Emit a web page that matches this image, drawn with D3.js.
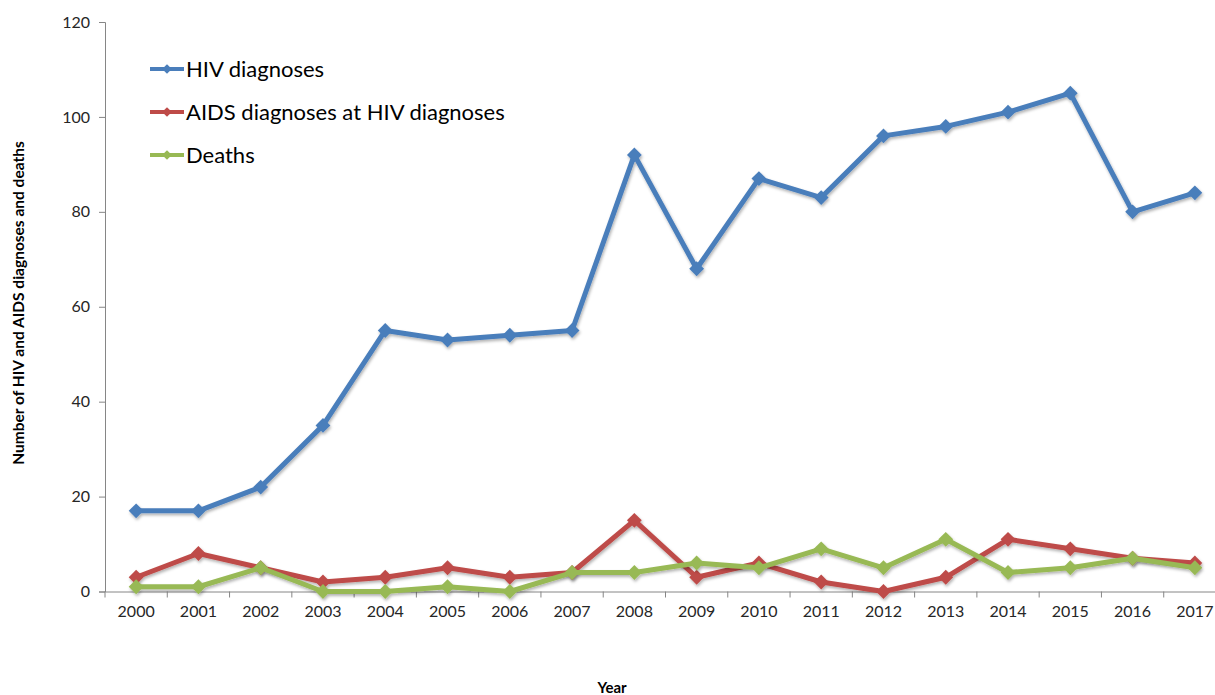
<!DOCTYPE html>
<html>
<head>
<meta charset="utf-8">
<script src="https://cdn.jsdelivr.net/npm/d3@7"></script>
<style>
  body { margin: 0; background: #fff; }
  text { font-family: Lato, "Liberation Sans", sans-serif; }
</style>
</head>
<body>
<div id="chart"></div>
<script>
var years = ['2000','2001','2002','2003','2004','2005','2006','2007','2008',
             '2009','2010','2011','2012','2013','2014','2015','2016','2017'];
var hivDiagnoses = [17,17,22,35,55,53,54,55,92,68,87,83,96,98,101,105,80,84];
var aidsAtHiv = [3,8,5,2,3,5,3,4,15,3,6,2,0,3,11,9,7,6];
var deaths = [1,1,5,0,0,1,0,4,4,6,5,9,5,11,4,5,7,5];
var yTicks = [0,20,40,60,80,100,120];

var series = [
  { name: 'HIV diagnoses', values: hivDiagnoses, color: '#4a7ebb' },
  { name: 'AIDS diagnoses at HIV diagnoses', values: aidsAtHiv, color: '#be4b48' },
  { name: 'Deaths', values: deaths, color: '#98b954' }
];

var width = 1215, height = 695;
var svg = d3.select('#chart').append('svg')
  .attr('width', width)
  .attr('height', height);

var defs = svg.append('defs');
var f = defs.append('filter').attr('id', 'shadow')
  .attr('x', '-5%').attr('y', '-5%').attr('width', '110%').attr('height', '120%');
f.append('feDropShadow')
  .attr('dx', 1).attr('dy', 2).attr('stdDeviation', 1.5)
  .attr('flood-color', '#000').attr('flood-opacity', 0.3);

var x = d3.scaleBand().domain(years).range([105, 1226]);
var y = d3.scaleLinear().domain([0, 120]).range([591.5, 22]);

// y axis
var yAxis = svg.append('g')
  .attr('transform', 'translate(105,0)')
  .call(d3.axisLeft(y).tickValues(yTicks).tickSize(6).tickPadding(9));
yAxis.select('.domain').attr('stroke', '#868686');
yAxis.selectAll('.tick line').attr('stroke', '#868686');
yAxis.selectAll('.tick text')
  .attr('fill', '#262626')
  .style('font-size', '16px')
  .style('font-family', 'Lato, "Liberation Sans", sans-serif');

// x axis
var xAxis = svg.append('g')
  .attr('transform', 'translate(0,' + y(0) + ')')
  .call(d3.axisBottom(x).tickSize(0).tickPadding(14));
xAxis.select('.domain').attr('stroke', '#868686');
xAxis.selectAll('.tick text')
  .attr('fill', '#262626')
  .style('font-size', '16px')
  .style('font-family', 'Lato, "Liberation Sans", sans-serif');
// ticks between categories
xAxis.selectAll('.sep')
  .data(years)
  .enter().append('line')
  .attr('class', 'sep')
  .attr('x1', function(d) { return x(d); })
  .attr('x2', function(d) { return x(d); })
  .attr('y1', 0).attr('y2', 6)
  .attr('stroke', '#868686');

// axis titles
svg.append('text')
  .attr('transform', 'translate(24,303) rotate(-90)')
  .attr('text-anchor', 'middle')
  .style('font-size', '15.5px')
  .style('font-weight', 'bold')
  .attr('fill', '#000')
  .text('Number of HIV and AIDS diagnoses and deaths');

svg.append('text')
  .attr('x', 612).attr('y', 693)
  .attr('text-anchor', 'middle')
  .style('font-size', '15px')
  .style('font-weight', 'bold')
  .attr('fill', '#000')
  .text('Year');

var line = d3.line()
  .x(function(d, i) { return x(years[i]) + x.bandwidth() / 2; })
  .y(function(d) { return y(d); });

var diamond = d3.symbol().type(d3.symbolDiamond2).size(140);

series.forEach(function(s) {
  var g = svg.append('g').attr('filter', 'url(#shadow)');
  g.append('path')
    .datum(s.values)
    .attr('fill', 'none')
    .attr('stroke', s.color)
    .attr('stroke-width', 5)
    .attr('stroke-linejoin', 'round')
    .attr('d', line);
  g.selectAll('.pt')
    .data(s.values)
    .enter().append('path')
    .attr('class', 'pt')
    .attr('fill', s.color)
    .attr('transform', function(d, i) {
      return 'translate(' + (x(years[i]) + x.bandwidth() / 2) + ',' + y(d) + ')';
    })
    .attr('d', diamond);
});

// legend
var legend = svg.append('g');
series.forEach(function(s, i) {
  var ly = 69 + i * 43;
  var lg = legend.append('g');
  lg.append('line')
    .attr('x1', 150).attr('x2', 184)
    .attr('y1', ly).attr('y2', ly)
    .attr('stroke', s.color).attr('stroke-width', 4);
  lg.append('path')
    .attr('transform', 'translate(167,' + ly + ')')
    .attr('fill', s.color)
    .attr('d', d3.symbol().type(d3.symbolDiamond2).size(60));
  lg.append('text')
    .attr('x', 186).attr('y', ly + 8)
    .style('font-size', '22px')
    .attr('fill', '#000')
    .text(s.name);
});
</script>
</body>
</html>
